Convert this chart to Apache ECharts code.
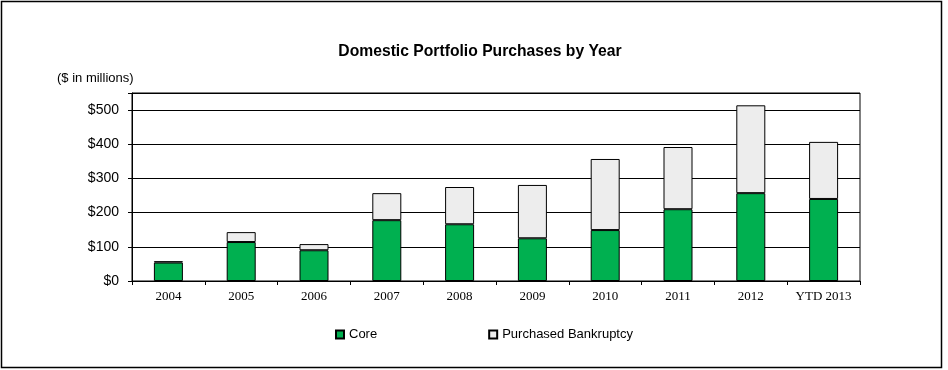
<!DOCTYPE html>
<html>
<head>
<meta charset="utf-8">
<script src="https://cdn.jsdelivr.net/npm/echarts@6/dist/echarts.min.js"></script>
<style>html,body{margin:0;padding:0;background:#fff}#c{width:948px;height:370px}</style>
</head>
<body>
<div id="c"></div>
<script>
var categories = ['2004','2005','2006','2007','2008','2009','2010','2011','2012','YTD 2013'];
var coreValues = [54, 114, 90, 178, 166, 125, 149, 210, 257, 240];
var bankruptcyValues = [4, 29, 18, 79, 109, 156, 208, 182, 257, 167];
var yTicks = [0, 100, 200, 300, 400, 500];

var chart = echarts.init(document.getElementById('c'));
chart.setOption({
  animation: false,
  backgroundColor: '#fff',
  title: {
    text: 'Domestic Portfolio Purchases by Year',
    left: 475, top: 39, textAlign: 'center',
    textStyle: {fontFamily: 'Liberation Sans, Arial', fontWeight: 'bold', fontSize: 15.7, color: '#000'}
  },
  graphic: [
    {type: 'rect', shape: {x: 1.5, y: 1.5, width: 940, height: 366}, style: {fill: 'none', stroke: '#000', lineWidth: 1.5}, silent: true},
    {type: 'text', left: 57, top: 72, style: {text: '($ in millions)', font: '13px "Liberation Sans", Arial', fill: '#000'}}
  ],
  legend: {
    left: 330, top: 323,
    itemWidth: 8, itemHeight: 8, itemGap: 111,
    icon: 'rect',
    textStyle: {fontFamily: 'Liberation Sans, Arial', fontSize: 13, color: '#000'},
    data: ['Core', 'Purchased Bankruptcy']
  },
  grid: {left: 132, top: 93, right: 88, bottom: 89, show: true, borderColor: '#000', borderWidth: 1},
  xAxis: {
    type: 'category', data: categories,
    axisLine: {lineStyle: {color: '#000'}},
    axisTick: {show: true, length: 4, lineStyle: {color: '#000'}},
    axisLabel: {fontFamily: 'Liberation Serif, Times New Roman', fontSize: 13, color: '#000', margin: 9}
  },
  yAxis: {
    type: 'value', min: 0, max: 550, interval: 100,
    axisLine: {show: true, lineStyle: {color: '#000'}},
    axisTick: {show: true, length: 4, lineStyle: {color: '#000'}},
    splitLine: {lineStyle: {color: '#000'}},
    axisLabel: {
      fontFamily: 'Liberation Sans, Arial', fontSize: 14, color: '#000', margin: 13,
      formatter: function (v) { return yTicks.indexOf(v) >= 0 ? '$' + v : ''; }
    }
  },
  series: [
    {name: 'Core', type: 'bar', stack: 't', data: coreValues, barWidth: 29,
     itemStyle: {color: '#00B050', borderColor: '#000', borderWidth: 1}},
    {name: 'Purchased Bankruptcy', type: 'bar', stack: 't', data: bankruptcyValues, barWidth: 29,
     itemStyle: {color: '#EDEDED', borderColor: '#000', borderWidth: 1}}
  ]
});
</script>
</body>
</html>
